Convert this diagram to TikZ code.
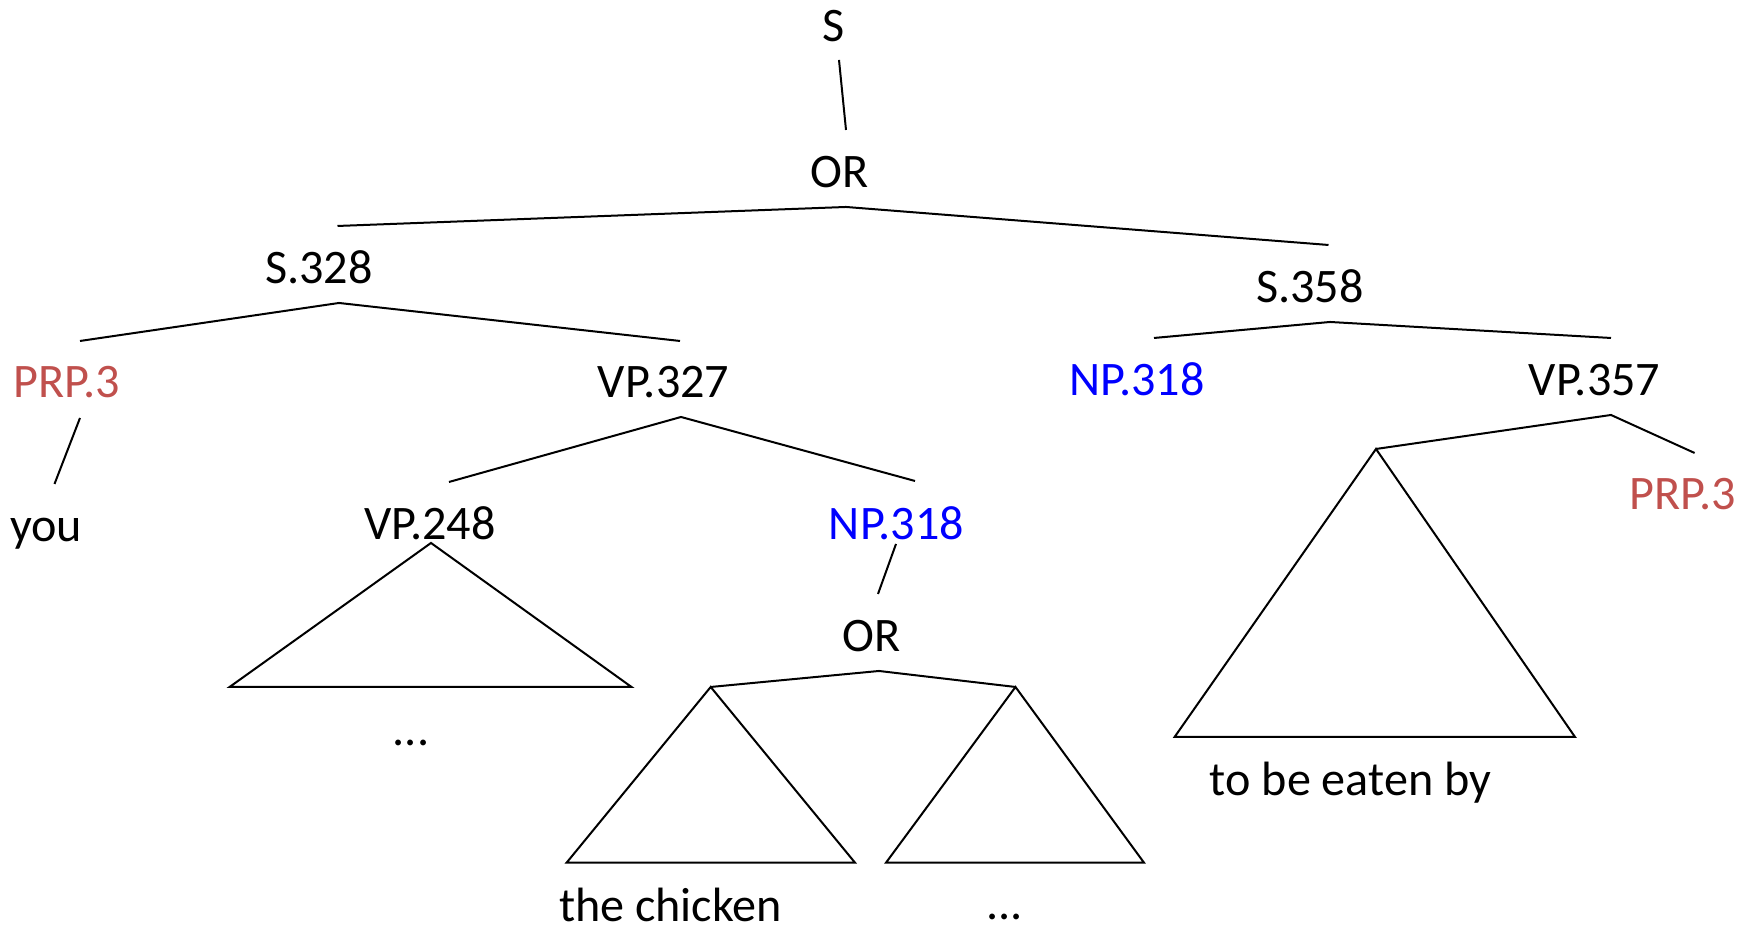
\documentclass[tikz,border=0pt]{standalone}
\usepackage{fontspec}
\setmainfont{Carlito}
\definecolor{prpred}{RGB}{192,80,77}
\definecolor{npblue}{RGB}{0,0,255}
\tikzset{
  lbl/.style={anchor=base, inner sep=0pt, font=\fontsize{13.7}{16}\selectfont},
  branch/.style={line width=0.02cm},
}
\begin{document}
\begin{tikzpicture}
\useasboundingbox (0,0) rectangle (17.54,9.28);

% Labels of the tree
\node [lbl] (s) at (8.335,8.86) {S};
\node [lbl] (or) at (8.40,7.40) {OR};
\node [lbl] (s328) at (3.19,6.44) {S.328};
\node [lbl] (s358) at (13.10,6.25) {S.358};
\node [lbl, text=prpred] (prpa) at (0.665,5.30) {PRP.3};
\node [lbl] (vp327) at (6.635,5.30) {VP.327};
\node [lbl, text=npblue] (npb) at (11.37,5.32) {NP.318};
\node [lbl] (vp357) at (15.945,5.32) {VP.357};
\node [lbl] (you) at (0.46,3.86) {you};
\node [lbl] (vp248) at (4.30,3.88) {VP.248};
\node [lbl, text=npblue] (npa) at (8.965,3.88) {NP.318};
\node [lbl, text=prpred] (prpb) at (16.825,4.18) {PRP.3};
\node [lbl] (orb) at (8.715,2.76) {OR};
\node [lbl] (dotsa) at (4.11,1.82) {...};
\node [lbl] (eaten) at (13.505,1.32) {to be eaten by};
\node [lbl] (chicken) at (6.705,0.06) {the chicken};
\node [lbl] (dotsb) at (10.045,0.08) {...};

% Branch points
\coordinate (s-foot) at (8.39,8.68);
\coordinate (or-head) at (8.46,7.98);
\coordinate (or-fork) at (8.46,7.21);
\coordinate (s328-head) at (3.375,7.02);
\coordinate (s358-head) at (13.285,6.83);
\coordinate (s328-fork) at (3.39,6.25);
\coordinate (prpa-head) at (0.80,5.87);
\coordinate (vp327-head) at (6.80,5.87);
\coordinate (prpa-foot) at (0.80,5.10);
\coordinate (you-head) at (0.545,4.44);
\coordinate (vp327-fork) at (6.81,5.11);
\coordinate (vp248-head) at (4.49,4.46);
\coordinate (npa-head) at (9.15,4.47);
\coordinate (s358-fork) at (13.30,6.06);
\coordinate (npb-head) at (11.54,5.90);
\coordinate (vp357-head) at (16.11,5.90);
\coordinate (vp357-fork) at (16.11,5.13);
\coordinate (big-top) at (13.76,4.79);
\coordinate (prpb-head) at (16.946,4.75);
\coordinate (npa-foot) at (8.96,3.84);
\coordinate (orb-head) at (8.78,3.34);
\coordinate (orb-fork) at (8.79,2.57);
\coordinate (left-top) at (7.107,2.41);
\coordinate (right-top) at (10.155,2.41);
\coordinate (vp248-top) at (4.31,3.85);

% Drawing branches
\draw [branch] (s-foot) -- (or-head);
\draw [branch] (s328-head) -- (or-fork) -- (s358-head);
\draw [branch] (prpa-head) -- (s328-fork) -- (vp327-head);
\draw [branch] (prpa-foot) -- (you-head);
\draw [branch] (vp248-head) -- (vp327-fork) -- (npa-head);
\draw [branch] (npb-head) -- (s358-fork) -- (vp357-head);
\draw [branch] (big-top) -- (vp357-fork) -- (prpb-head);
\draw [branch] (npa-foot) -- (orb-head);
\draw [branch] (left-top) -- (orb-fork) -- (right-top);

% Drawing subtrees as triangles
\draw [branch] (vp248-top) -- (2.296,2.41) -- (6.315,2.41) -- cycle;
\draw [branch] (left-top) -- (5.666,0.653) -- (8.55,0.653) -- cycle;
\draw [branch] (right-top) -- (8.86,0.653) -- (11.44,0.653) -- cycle;
\draw [branch] (big-top) -- (11.746,1.91) -- (15.75,1.91) -- cycle;
\end{tikzpicture}
\end{document}
